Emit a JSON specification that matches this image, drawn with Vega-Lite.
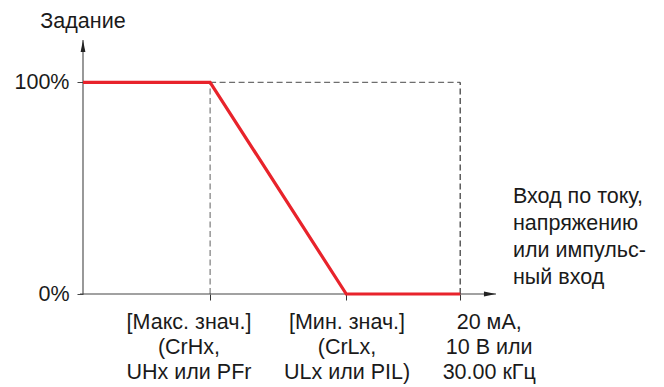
{
  "$schema": "https://vega.github.io/schema/vega-lite/v6.json",
  "width": 413,
  "height": 254,
  "autosize": "none",
  "padding": {"left": 83, "top": 40, "right": 168, "bottom": 93},
  "background": "white",
  "config": {"view": {"stroke": null}, "font": "Liberation Sans"},
  "datasets": {
    "profile": [
      {"x": 0, "y": 100},
      {"x": 33.7, "y": 100},
      {"x": 69.8, "y": 0},
      {"x": 100, "y": 0}
    ],
    "guides": [
      {"x": 33.7, "x2": 33.7, "y": 0, "y2": 100, "kind": "inner"},
      {"x": 33.7, "x2": 100, "y": 100, "y2": 100, "kind": "inner"},
      {"x": 100, "x2": 100, "y": 0, "y2": 100, "kind": "outer"}
    ],
    "axisLines": [
      {"x": -0.8, "x2": 109.5, "y": 0, "y2": 0},
      {"x": 0, "x2": 0, "y": 0, "y2": 120}
    ],
    "arrowX": [{"x": 107.9, "y": 0}],
    "arrowY": [{"x": 0, "y": 117.2}],
    "centerLabels": [
      {"x": 0, "y": 133.6, "text": "Задание"},
      {"x": 28.1, "y": -8.3, "text": "[Макс. знач.]\n(CrHx,\nUHx или PFr"},
      {"x": 70.0, "y": -8.3, "text": "[Мин. знач.]\n(CrLx,\nULx или PIL)"},
      {"x": 107.7, "y": -8.3, "text": "20 мА,\n10 В или\n30.00 кГц"}
    ],
    "sideLabels": [
      {"x": 114.0, "y": 50.8, "text": "Вход по току,\nнапряжению\nили  импульс-\nный вход"}
    ]
  },
  "encoding": {
    "x": {
      "field": "x", "type": "quantitative",
      "scale": {"domain": [0, 109.5], "nice": false, "zero": false},
      "axis": {"values": [33.7, 69.8, 100], "labels": false, "title": null, "domain": false, "grid": false, "tickSize": 6, "tickColor": "#333333"}
    },
    "y": {
      "field": "y", "type": "quantitative",
      "scale": {"domain": [0, 120], "nice": false, "zero": false},
      "axis": {"values": [0, 100], "labelExpr": "datum.value + '%'", "title": null, "domain": false, "grid": false, "tickSize": 6, "tickColor": "#444444", "labelFontSize": 21.5, "labelPadding": 8, "labelColor": "#1a1a1a", "labelFont": "Liberation Sans"}
    }
  },
  "layer": [
    {
      "data": {"name": "guides"},
      "mark": {"type": "rule", "strokeDash": [6, 3.5], "strokeWidth": 1.1},
      "encoding": {
        "x2": {"field": "x2"},
        "y2": {"field": "y2"},
        "color": {"field": "kind", "type": "nominal", "legend": null, "scale": {"domain": ["inner", "outer"], "range": ["#6e6e6e", "#222222"]}}
      }
    },
    {
      "data": {"name": "axisLines"},
      "mark": {"type": "rule", "color": "#444444", "strokeWidth": 1.1},
      "encoding": {"x2": {"field": "x2"}, "y2": {"field": "y2"}}
    },
    {
      "data": {"name": "profile"},
      "mark": {"type": "line", "color": "#e8232b", "strokeWidth": 3.2, "strokeJoin": "miter"},
      "encoding": {}
    },
    {
      "data": {"name": "arrowX"},
      "mark": {"type": "point", "shape": "M-1,-0.4L1,0L-1,0.4Z", "filled": true, "color": "#222222", "size": 144, "opacity": 1},
      "encoding": {}
    },
    {
      "data": {"name": "arrowY"},
      "mark": {"type": "point", "shape": "M-0.4,1L0,-1L0.4,1Z", "filled": true, "color": "#222222", "size": 144, "opacity": 1},
      "encoding": {}
    },
    {
      "data": {"name": "centerLabels"},
      "mark": {"type": "text", "align": "center", "baseline": "top", "lineBreak": "\n", "lineHeight": 25, "fontSize": 21.5, "color": "#1a1a1a", "font": "Liberation Sans"},
      "encoding": {"text": {"field": "text"}}
    },
    {
      "data": {"name": "sideLabels"},
      "mark": {"type": "text", "align": "left", "baseline": "top", "lineBreak": "\n", "lineHeight": 27, "fontSize": 21.5, "color": "#1a1a1a", "font": "Liberation Sans"},
      "encoding": {"text": {"field": "text"}}
    }
  ]
}
